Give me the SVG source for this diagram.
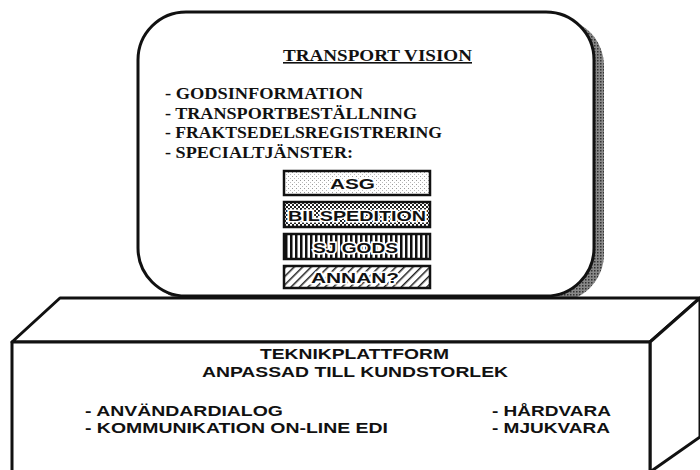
<svg xmlns="http://www.w3.org/2000/svg" width="700" height="470" viewBox="0 0 700 470">
<style>
.ser{font-family:"Liberation Serif","Times New Roman",serif;font-weight:bold;fill:#111;font-size:16px}
.san{font-family:"Liberation Sans",Arial,sans-serif;font-weight:bold;fill:#111;font-size:15.5px}
.box{font-family:"Liberation Sans",Arial,sans-serif;font-weight:bold;fill:#111;font-size:15px;stroke:#fff;stroke-width:3;paint-order:stroke}
.out{fill:#fff;stroke:#111;stroke-width:3;stroke-linejoin:round}
.sb{stroke:#111;stroke-width:2.5}
</style>
<defs>
<pattern id="dots" width="4" height="4" patternUnits="userSpaceOnUse"><rect width="4" height="4" fill="#fff"/><rect x="0" y="0" width="1" height="1" fill="#999"/><rect x="2" y="2" width="1" height="1" fill="#bbb"/></pattern>
<pattern id="check" width="4" height="4" patternUnits="userSpaceOnUse"><rect width="4" height="4" fill="#fff"/><rect width="2" height="2" fill="#222"/><rect x="2" y="2" width="2" height="2" fill="#222"/></pattern>
<pattern id="vert" width="5" height="5" patternUnits="userSpaceOnUse"><rect width="5" height="5" fill="#fff"/><rect width="2.5" height="5" fill="#111"/></pattern>
<pattern id="diag" width="6" height="6" patternUnits="userSpaceOnUse" patternTransform="rotate(45)"><rect width="6" height="6" fill="#fff"/><rect width="1.5" height="6" fill="#222"/></pattern>
<pattern id="shad" width="3" height="3" patternUnits="userSpaceOnUse"><rect width="3" height="3" fill="#888"/><rect width="1.5" height="1.5" fill="#333"/></pattern>
</defs>
<g id="vision">
<rect x="146" y="18" width="458" height="284" rx="48" fill="url(#shad)"/>
<rect class="out" x="138" y="12" width="456" height="284" rx="48"/>
<text class="ser" x="283" y="61" textLength="189" lengthAdjust="spacingAndGlyphs" text-decoration="underline">TRANSPORT VISION</text>
<text class="ser" x="165" y="99" textLength="198" lengthAdjust="spacingAndGlyphs">- GODSINFORMATION</text>
<text class="ser" x="165" y="119" textLength="252" lengthAdjust="spacingAndGlyphs">- TRANSPORTBESTÄLLNING</text>
<text class="ser" x="165" y="138" textLength="277" lengthAdjust="spacingAndGlyphs">- FRAKTSEDELSREGISTRERING</text>
<text class="ser" x="165" y="158" textLength="188" lengthAdjust="spacingAndGlyphs">- SPECIALTJÄNSTER:</text>
</g>
<g id="asg"><rect class="sb" x="284" y="171" width="146" height="24" fill="url(#dots)"/><text class="box" x="330" y="189" textLength="45" lengthAdjust="spacingAndGlyphs">ASG</text></g>
<g id="bilspedition"><rect class="sb" x="284" y="202" width="146" height="25" fill="url(#check)"/><text class="box" x="288" y="221" textLength="138" lengthAdjust="spacingAndGlyphs">BILSPEDITION</text></g>
<g id="sjgods"><rect class="sb" x="284" y="234" width="146" height="25" fill="url(#vert)"/><text class="box" x="313" y="253" textLength="85" lengthAdjust="spacingAndGlyphs">SJ GODS</text></g>
<g id="annan"><rect class="sb" x="284" y="266" width="146" height="22" fill="url(#diag)"/><text class="box" x="311" y="283" textLength="88" lengthAdjust="spacingAndGlyphs">ANNAN?</text></g>
<g id="plattform">
<polygon class="out" points="12,342 60,298 700,298 650,342"/>
<polygon class="out" points="650,342 700,298 700,437 650,472"/>
<rect class="out" x="12" y="342" width="638" height="134"/>
<text class="san" x="260" y="359" textLength="189" lengthAdjust="spacingAndGlyphs">TEKNIKPLATTFORM</text>
<text class="san" x="202" y="377" textLength="306" lengthAdjust="spacingAndGlyphs">ANPASSAD TILL KUNDSTORLEK</text>
<text class="san" x="85" y="416" textLength="198" lengthAdjust="spacingAndGlyphs">- ANVÄNDARDIALOG</text>
<text class="san" x="85" y="433" textLength="303" lengthAdjust="spacingAndGlyphs">- KOMMUNIKATION ON-LINE EDI</text>
<text class="san" x="492" y="416" textLength="119" lengthAdjust="spacingAndGlyphs">- HÅRDVARA</text>
<text class="san" x="492" y="433" textLength="118" lengthAdjust="spacingAndGlyphs">- MJUKVARA</text>
</g>
<g id="connectors"/>
</svg>
